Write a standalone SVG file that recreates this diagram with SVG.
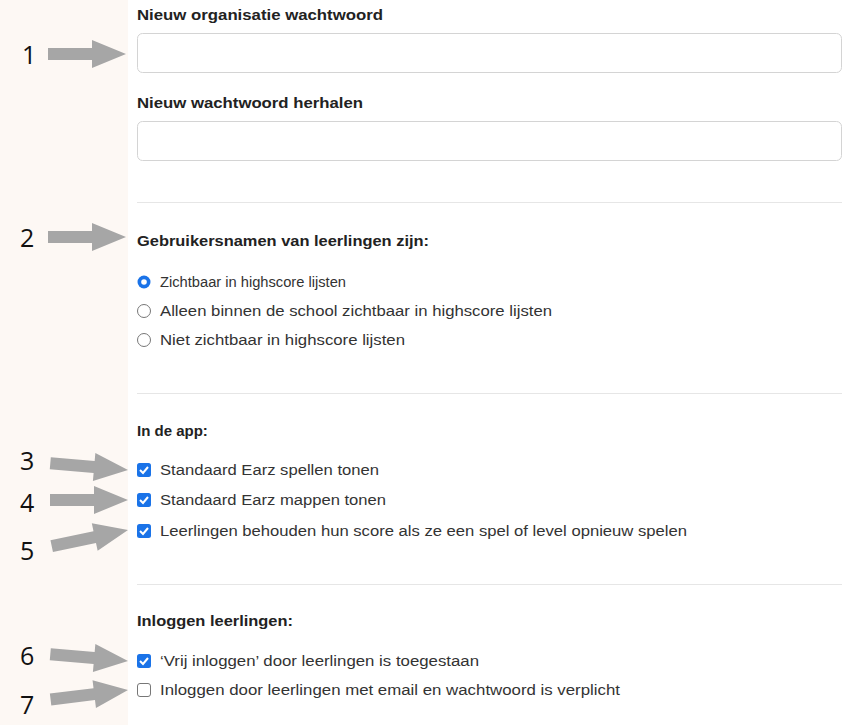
<svg xmlns="http://www.w3.org/2000/svg" width="846" height="725" viewBox="0 0 846 725">
<style>
.n{font-family:"Open Sans","Liberation Sans",sans-serif;font-size:25px;fill:#111}
.h{font-family:"Liberation Sans",Arial,sans-serif;font-size:15px;font-weight:bold;fill:#222}
.t{font-family:"Liberation Sans",Arial,sans-serif;font-size:15.5px;fill:#333}
.in{fill:#fff;stroke:#d4d4d4;stroke-width:1}
.cb{fill:#1a73e8}
.ck{fill:none;stroke:#fff;stroke-width:2}
.rb{fill:#fff;stroke:#777;stroke-width:1}
.ar{fill:#a6a6a6}
</style>
<defs><polygon id="arr" points="-78,-6 -34,-6 -34,-14 0,0 -34,14 -34,6 -78,6"/></defs>
<rect width="846" height="725" fill="#fff"/>
<rect width="128" height="725" fill="#fdf8f4"/>
<g id="connectors">
<use href="#arr" class="ar" transform="translate(126,54)"/>
<use href="#arr" class="ar" transform="translate(126,237)"/>
<use href="#arr" class="ar" transform="translate(128,470) rotate(5)"/>
<use href="#arr" class="ar" transform="translate(128,500)"/>
<use href="#arr" class="ar" transform="translate(128,530) rotate(-12)"/>
<use href="#arr" class="ar" transform="translate(128,661) rotate(5)"/>
<use href="#arr" class="ar" transform="translate(128,690) rotate(-7)"/>
</g>
<g id="numbers">
<text class="n" x="22" y="64">1</text>
<text class="n" x="20" y="247">2</text>
<text class="n" x="20" y="470">3</text>
<text class="n" x="20" y="512">4</text>
<text class="n" x="20" y="560">5</text>
<text class="n" x="20" y="665">6</text>
<text class="n" x="20" y="714">7</text>
</g>
<g id="password">
<text class="h" x="137" y="20" textLength="246" lengthAdjust="spacingAndGlyphs">Nieuw organisatie wachtwoord</text>
<rect class="in" x="137.5" y="33.5" width="704" height="39" rx="5"/>
<text class="h" x="137" y="108" textLength="226" lengthAdjust="spacingAndGlyphs">Nieuw wachtwoord herhalen</text>
<rect class="in" x="137.5" y="121.5" width="704" height="39" rx="5"/>
</g>
<g stroke="#e6e6e6">
<line x1="137" y1="202.5" x2="842" y2="202.5"/>
<line x1="137" y1="393.5" x2="842" y2="393.5"/>
<line x1="137" y1="584.5" x2="842" y2="584.5"/>
</g>
<g id="usernames">
<text class="h" x="137" y="246" textLength="292" lengthAdjust="spacingAndGlyphs">Gebruikersnamen van leerlingen zijn:</text>
<circle cx="144" cy="282" r="6.5" fill="#1a73e8"/><circle cx="144" cy="282" r="2.8" fill="#fff"/>
<text class="t" x="160" y="287" textLength="186" lengthAdjust="spacingAndGlyphs">Zichtbaar in highscore lijsten</text>
<circle class="rb" cx="144" cy="311" r="6.5"/>
<text class="t" x="160" y="316" textLength="392" lengthAdjust="spacingAndGlyphs">Alleen binnen de school zichtbaar in highscore lijsten</text>
<circle class="rb" cx="144" cy="340" r="6.5"/>
<text class="t" x="160" y="345" textLength="245" lengthAdjust="spacingAndGlyphs">Niet zichtbaar in highscore lijsten</text>
</g>
<g id="app">
<text class="h" x="137" y="436">In de app:</text>
<rect class="cb" x="137" y="463" width="14" height="14" rx="2.5"/><path class="ck" d="M140,470 l3,3 l5,-6"/>
<text class="t" x="160" y="475" textLength="219" lengthAdjust="spacingAndGlyphs">Standaard Earz spellen tonen</text>
<rect class="cb" x="137" y="493" width="14" height="14" rx="2.5"/><path class="ck" d="M140,500 l3,3 l5,-6"/>
<text class="t" x="160" y="505" textLength="226" lengthAdjust="spacingAndGlyphs">Standaard Earz mappen tonen</text>
<rect class="cb" x="137" y="524" width="14" height="14" rx="2.5"/><path class="ck" d="M140,531 l3,3 l5,-6"/>
<text class="t" x="160" y="536" textLength="527" lengthAdjust="spacingAndGlyphs">Leerlingen behouden hun score als ze een spel of level opnieuw spelen</text>
</g>
<g id="login">
<text class="h" x="137" y="626" textLength="156" lengthAdjust="spacingAndGlyphs">Inloggen leerlingen:</text>
<rect class="cb" x="137" y="654" width="14" height="14" rx="2.5"/><path class="ck" d="M140,661 l3,3 l5,-6"/>
<text class="t" x="160" y="666" textLength="319" lengthAdjust="spacingAndGlyphs">‘Vrij inloggen’ door leerlingen is toegestaan</text>
<rect x="137.5" y="683.5" width="13" height="13" rx="2.5" fill="#fff" stroke="#777"/>
<text class="t" x="160" y="695" textLength="460" lengthAdjust="spacingAndGlyphs">Inloggen door leerlingen met email en wachtwoord is verplicht</text>
</g>
</svg>
